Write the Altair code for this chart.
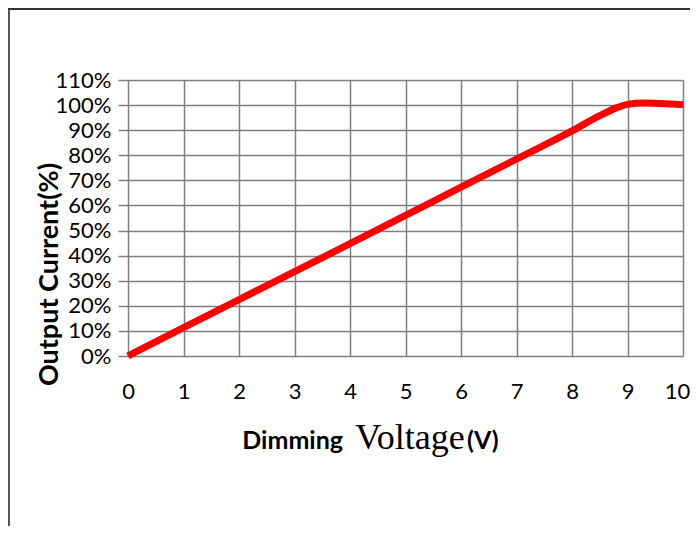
import altair as alt
import pandas as pd

# Data
voltage = [0, 1, 2, 3, 4, 5, 6, 7, 8, 8.5, 8.8, 9, 9.3, 9.6, 10]
current = [0, 11.3, 22.5, 33.6, 44.8, 56.0, 67.3, 78.5, 89.7, 95.8, 98.9, 100.3, 100.8, 100.6, 100.1]
x_ticks = list(range(0, 11))
y_ticks = list(range(0, 111, 10))
y_title = "Output Current(%)"
x_title_parts = ["Dimming", "Voltage", "(V)"]

df = pd.DataFrame({"V": voltage, "I": current})

GRID = "#7f7f7f"

line = alt.Chart(df).mark_line(color="#ff0000", strokeWidth=7, interpolate="monotone").encode(
    x=alt.X("V:Q",
            scale=alt.Scale(domain=[0, 10], nice=False, zero=False),
            axis=alt.Axis(values=x_ticks, title=None, ticks=False, domain=False,
                          grid=True, gridColor=GRID, gridWidth=1.5, gridOpacity=1,
                          labelFont="Lato", labelFontSize=22, labelColor="#000",
                          labelPadding=25, labelFlush=False, labelOverlap=False,
                          labelOffset={"condition": {"test": "datum.value == 10", "value": -6}, "value": 0})),
    y=alt.Y("I:Q",
            scale=alt.Scale(domain=[0, 110], nice=False),
            axis=alt.Axis(values=y_ticks, labelExpr="datum.value + '%'",
                          ticks=True, tickSize=10, tickColor=GRID, tickWidth=1.5,
                          domain=False, grid=True, gridColor=GRID, gridWidth=1.5, gridOpacity=1,
                          labelFont="Lato", labelFontSize=22, labelColor="#000",
                          labelPadding=7, labelFlush=False, labelOverlap=False,
                          title=y_title, titleFont="Lato", titleFontSize=27,
                          titleFontWeight="bold", titleColor="#000",
                          titleAngle=270, titleAlign="center", titleBaseline="middle",
                          titleX=-79, titleY=194)),
)

def txt(s, x, align, font, size, weight):
    return alt.Chart(pd.DataFrame({"t": [s]})).mark_text(
        align=align, baseline="alphabetic", font=font, fontSize=size,
        fontWeight=weight, color="#000"
    ).encode(text="t:N", x=alt.value(x), y=alt.value(369))

t1 = txt(x_title_parts[0], 215, "right", "Lato", 25, "bold")
t2 = txt(x_title_parts[1], 282, "center", "Liberation Serif", 36, "normal")
t3 = txt(x_title_parts[2], 339, "left", "Lato", 25, "bold")

top_rule = alt.Chart(pd.DataFrame({"a": [0]})).mark_rule(color="#333333", strokeWidth=2).encode(
    x=alt.value(-120), x2=alt.value(562), y=alt.value(-71))
left_rule = alt.Chart(pd.DataFrame({"a": [0]})).mark_rule(color="#555555", strokeWidth=2).encode(
    x=alt.value(-119), y=alt.value(-71), y2=alt.value(446))

chart = alt.layer(line, t1, t2, t3, top_rule, left_rule).properties(
    width=555, height=276,
    autosize=alt.AutoSizeParams(type="none"),
    padding={"left": 120, "top": 72, "right": 7, "bottom": 170},
).configure_view(stroke=GRID, strokeWidth=1.5).configure(background="white")

chart.save("out.html", embed_options={"renderer": "svg", "actions": False})
